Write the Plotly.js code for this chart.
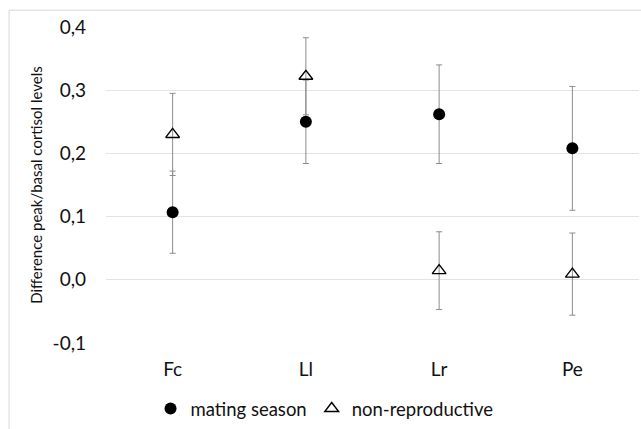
<!DOCTYPE html>
<html>
<head>
<meta charset="utf-8">
<script src="https://cdn.plot.ly/plotly-3.0.1.min.js"></script>
<style>
html,body{margin:0;padding:0;background:#fff;}
#chart{width:641px;height:429px;}
</style>
</head>
<body>
<div id="chart"></div>
<script>
const categories = ["Fc", "Ll", "Lr", "Pe"];
const matingValues = [0.107, 0.250, 0.262, 0.208];
const matingErrors = [0.065, 0.066, 0.078, 0.098];
const nonReproValues = [0.230, 0.322, 0.0145, 0.009];
const nonReproErrors = [0.065, 0.061, 0.0615, 0.065];
const yTickValues = [-0.1, 0, 0.1, 0.2, 0.3, 0.4];
const yTickLabels = ["-0,1", "0,0", "0,1", "0,2", "0,3", "0,4"];

const errStyle = {type: 'data', visible: true, color: '#8c8c8c', thickness: 1, width: 3};

const traces = [
  {
    x: categories, y: matingValues, type: 'scatter', mode: 'markers',
    name: 'mating season',
    marker: {symbol: 'circle', size: 12, color: '#000'},
    error_y: Object.assign({array: matingErrors}, errStyle)
  },
  {
    x: categories, y: nonReproValues, type: 'scatter', mode: 'markers',
    name: 'non-reproductive',
    marker: {symbol: 'triangle-up-open', size: 12, color: '#000', line: {width: 1.4, color: '#000'}},
    error_y: Object.assign({array: nonReproErrors}, errStyle)
  }
];

const layout = {
  width: 641, height: 429,
  margin: {l: 105.5, r: 2.2, t: 27.4, b: 84.7},
  paper_bgcolor: '#fff', plot_bgcolor: '#fff',
  font: {family: 'Lato, "Open Sans", sans-serif', color: '#111'},
  showlegend: true,
  legend: {
    orientation: 'h', x: 0.41, xanchor: 'center', y: -0.205, yanchor: 'middle',
    font: {size: 18.5, color: '#111'}, itemwidth: 30, tracegroupgap: 0
  },
  xaxis: {
    type: 'category', range: [-0.5, 3.5], showgrid: false, zeroline: false,
    showline: false, ticks: '', tickfont: {size: 19, color: '#111'}, ticklabelstandoff: 13
  },
  yaxis: {
    range: [-0.1, 0.4], tickvals: yTickValues, ticktext: yTickLabels,
    showgrid: true, gridcolor: '#e3e3e3', gridwidth: 1, zeroline: false, showline: false,
    ticks: '', tickfont: {size: 19, color: '#111'}, ticklabelstandoff: 19,
    title: {text: 'Difference peak/basal cortisol levels', font: {size: 15, color: '#111'}, standoff: 6}
  },
  shapes: [
    {type: 'rect', xref: 'paper', yref: 'paper',
     x0: (8.5 - 105.5) / 533.3, x1: 1.01, y0: -0.3, y1: 1 + (27.4 - 10.5) / 316.9,
     line: {color: '#d9d9d9', width: 1}, fillcolor: 'rgba(0,0,0,0)', layer: 'below'}
  ]
};

Plotly.newPlot('chart', traces, layout, {displayModeBar: false, staticPlot: true});
</script>
</body>
</html>
